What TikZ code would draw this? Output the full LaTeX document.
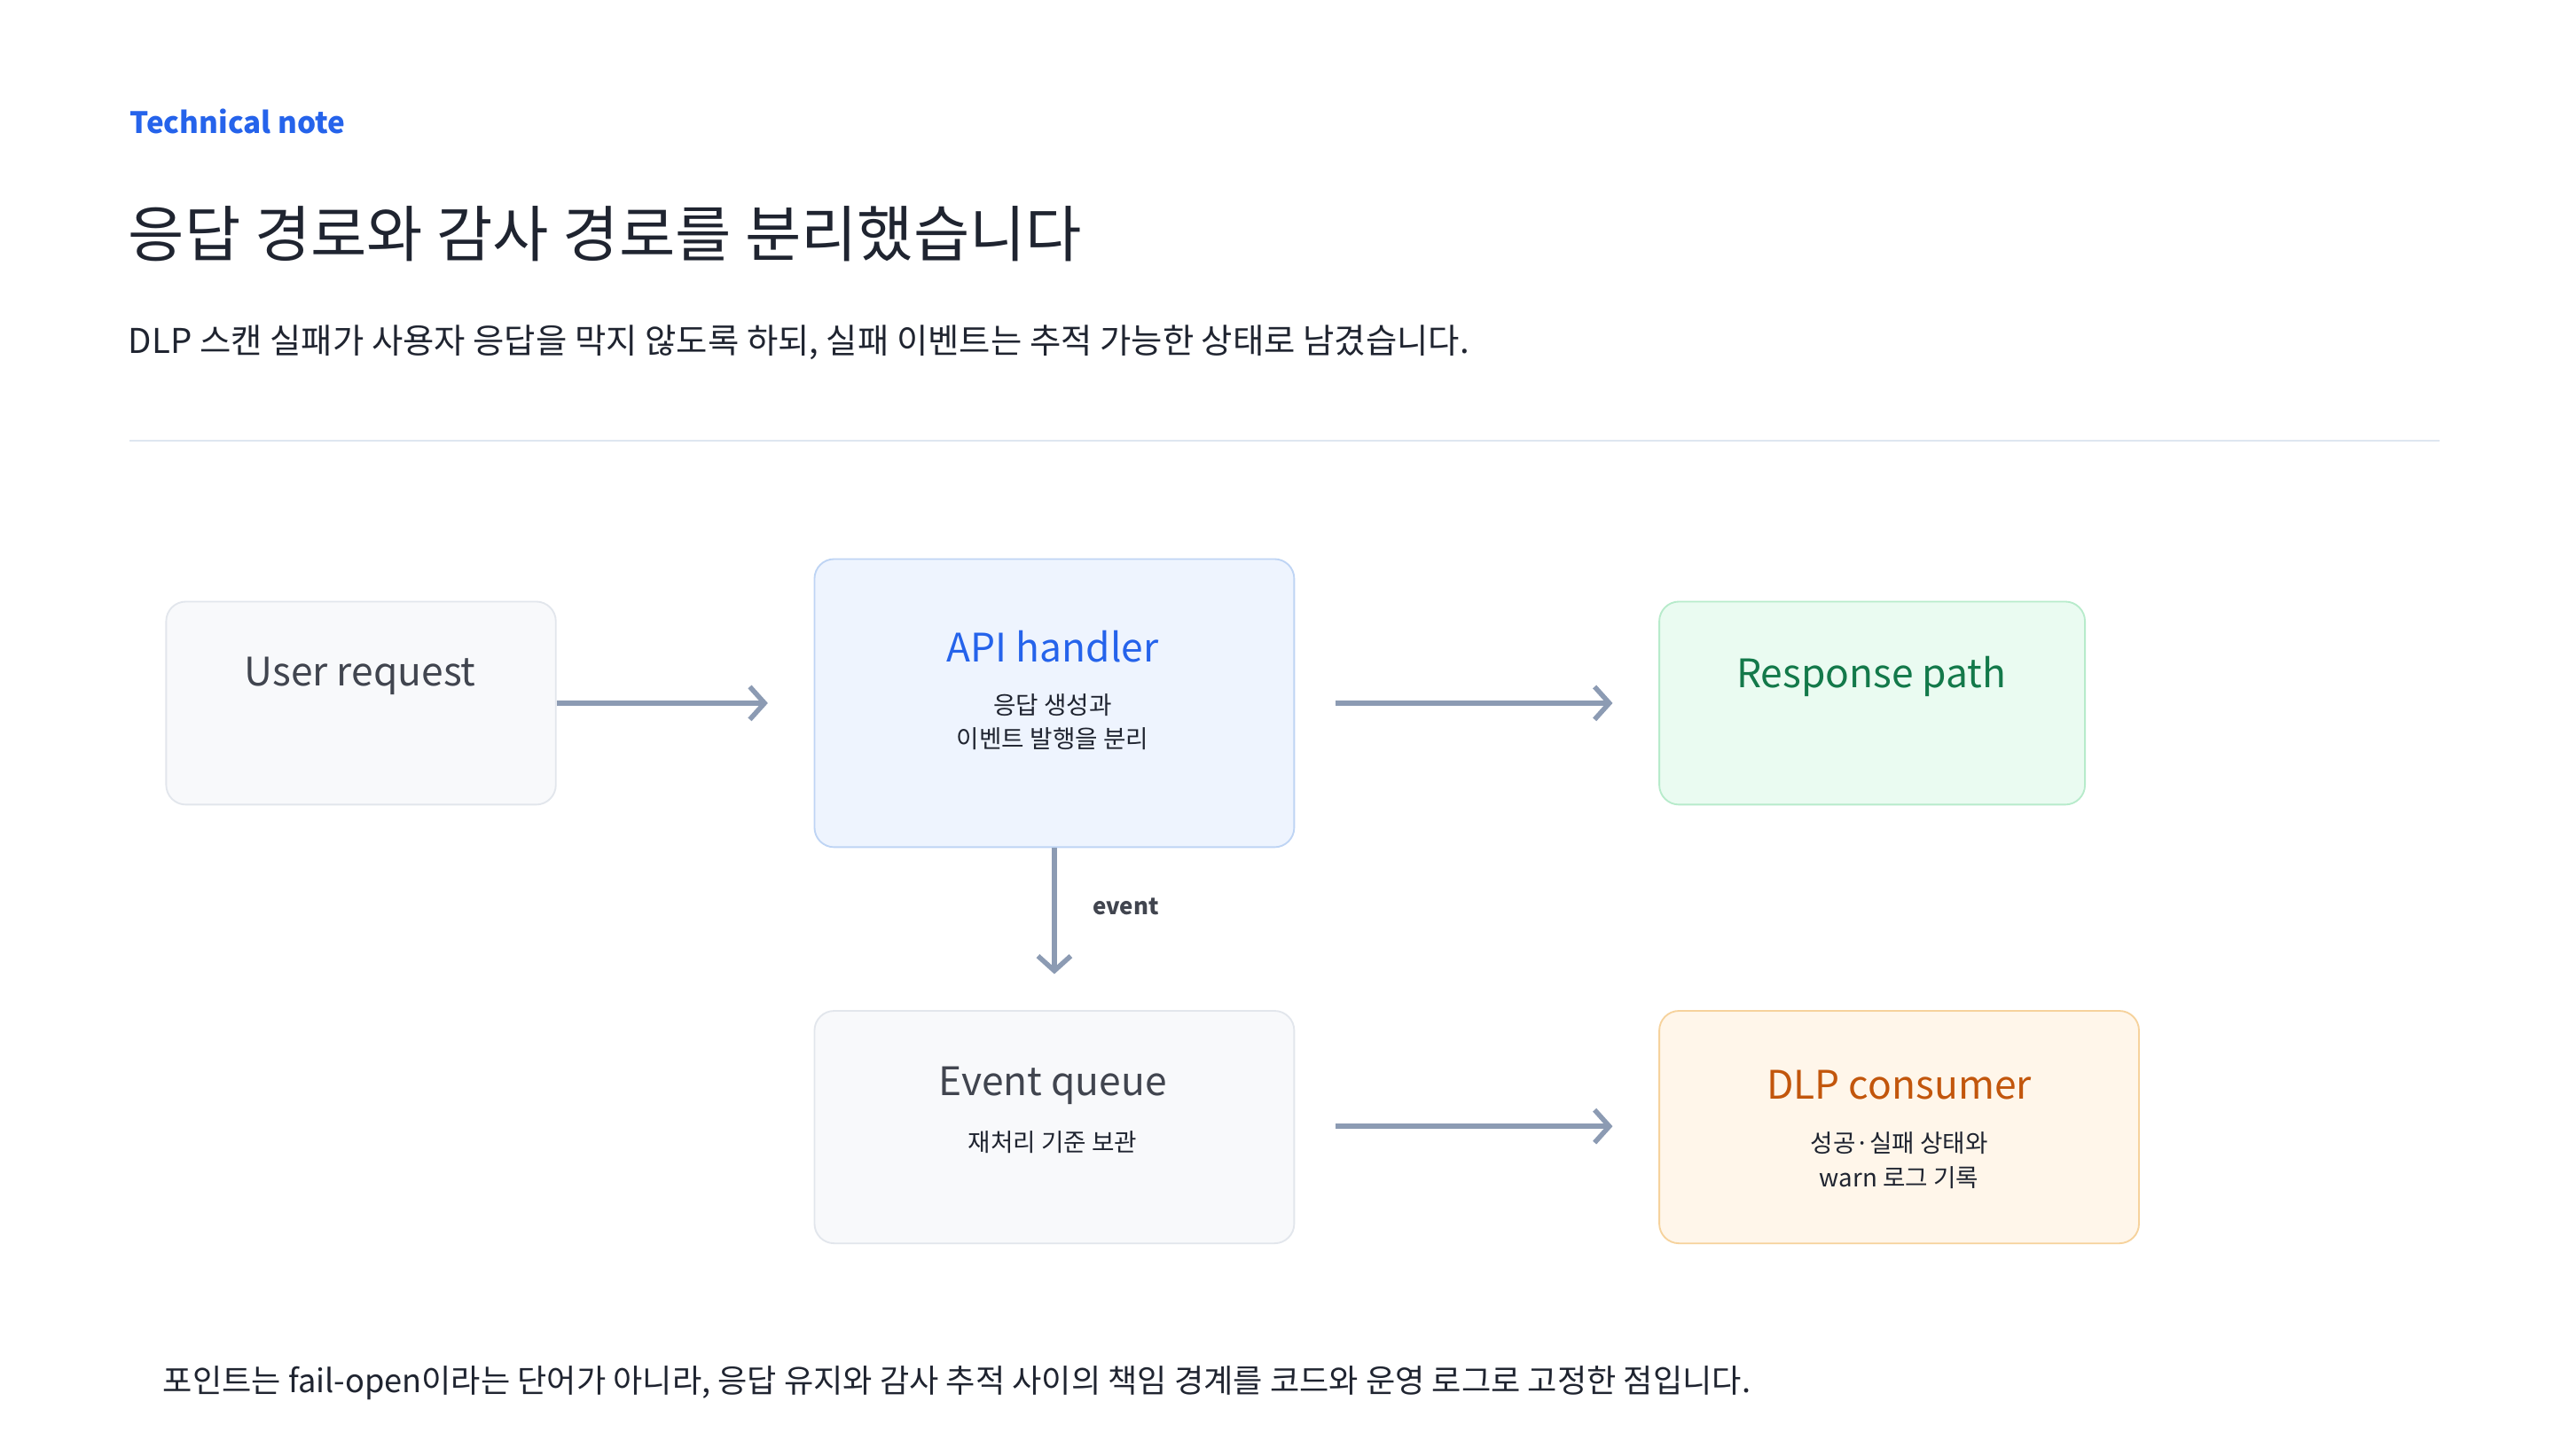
\documentclass[tikz,border=0pt]{standalone}
\usepackage{fontspec}
\setmainfont{Noto Sans CJK KR}
\usetikzlibrary{arrows.meta}
\definecolor{ink}{HTML}{1F2430}
\definecolor{arr}{HTML}{8C9BB3}
\definecolor{bl}{HTML}{2563EB}
\begin{document}
\begin{tikzpicture}[x=1pt,y=-1pt,
 box/.style={draw,rounded corners=12pt,line width=1pt,anchor=north west,inner sep=0pt},
 conn/.style={draw=arr,line width=3pt,-{Straight Barb[length=9pt,width=20pt,line width=3pt]}},
 ttl/.style={font=\fontsize{24}{28}\selectfont},
 sub/.style={font=\fontsize{15}{21}\selectfont,text=ink,align=center}]
\useasboundingbox[fill=white] (0,0) rectangle (1560,889);
\node[anchor=west,text=bl,font=\fontsize{18}{22}\selectfont\bfseries] (tn) at (76,74) {Technical note};
\node[anchor=west,text=ink,font=\fontsize{37.3}{44}\selectfont] (ti) at (75,143) {응답 경로와 감사 경로를 분리했습니다};
\node[anchor=west,text=ink,font=\fontsize{20.8}{24}\selectfont] (st) at (75,209) {DLP 스캔 실패가 사용자 응답을 막지 않도록 하되, 실패 이벤트는 추적 가능한 상태로 남겼습니다.};
\draw[draw={rgb,255:red,222;green,230;blue,240},line width=1.2pt] (79,269) -- (1490,269);
\node[box,draw={rgb,255:red,226;green,230;blue,236},fill={rgb,255:red,248;green,249;blue,251},minimum width=238pt,minimum height=124pt] (ur) at (101,367) {};
\node[box,draw={rgb,255:red,190;green,212;blue,244},fill={rgb,255:red,238;green,244;blue,254},minimum width=293pt,minimum height=176pt] (api) at (497,341) {};
\node[box,draw={rgb,255:red,183;green,235;blue,203},fill={rgb,255:red,234;green,251;blue,241},minimum width=260pt,minimum height=124pt] (rp) at (1013,367) {};
\node[box,draw={rgb,255:red,226;green,230;blue,236},fill={rgb,255:red,248;green,249;blue,251},minimum width=293pt,minimum height=142pt] (eq) at (497,617) {};
\node[box,draw={rgb,255:red,246;green,210;blue,156},fill={rgb,255:red,255;green,246;blue,234},minimum width=293pt,minimum height=142pt] (dlp) at (1013,617) {};
\node[ttl,text=ink!85] at (220,413) {User request};
\node[ttl,text=bl] at (643,395) {API handler};
\node[sub] at (643,441) {응답 생성과\\이벤트 발행을 분리};
\node[ttl,text={rgb,255:red,19;green,121;blue,74}] at (1143,413) {Response path};
\node[ttl,text=ink!85] at (643,663) {Event queue};
\node[sub] at (643,698) {재처리 기준 보관};
\node[ttl,text={rgb,255:red,194;green,86;blue,12}] at (1160,663) {DLP consumer};
\node[sub] at (1160,709) {성공·실패 상태와\\warn 로그 기록};
\draw[conn,shorten >=28pt] (ur.east) -- (ur.east -| api.west);
\draw[conn,shorten <=25pt,shorten >=28pt] (api.east |- ur.east) -- (rp.west);
\draw[conn,shorten >=22pt] (api.south) -- (eq.north);
\node[anchor=west,text=ink!85,font=\fontsize{14}{16}\selectfont\bfseries] at (664,554) {event};
\draw[conn,shorten <=25pt,shorten >=28pt] (eq.east |- 0,688) -- (dlp.west |- 0,688);
\node[anchor=west,text=ink,font=\fontsize{19.6}{22}\selectfont] (ft) at (96,845) {포인트는 fail-open이라는 단어가 아니라, 응답 유지와 감사 추적 사이의 책임 경계를 코드와 운영 로그로 고정한 점입니다.};
\end{tikzpicture}
\end{document}
